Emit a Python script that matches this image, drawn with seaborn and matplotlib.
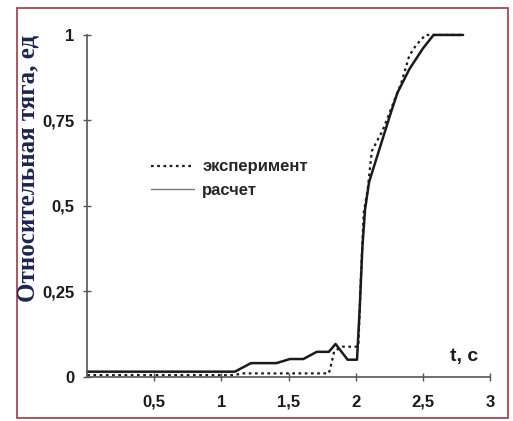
import matplotlib
matplotlib.use("Agg")
import matplotlib.pyplot as plt
import matplotlib.patches as patches
import seaborn as sns
import pandas as pd
from matplotlib.ticker import FuncFormatter

# расчет (solid)
t_calc = [0.0, 1.10, 1.22, 1.41, 1.51, 1.61, 1.71, 1.80, 1.85, 1.94, 2.01, 2.03, 2.05, 2.07,
          2.10, 2.14, 2.18, 2.22, 2.26, 2.31, 2.40, 2.50, 2.58, 2.80]
y_calc = [0.015, 0.015, 0.040, 0.040, 0.052, 0.052, 0.073, 0.073, 0.096, 0.050, 0.050, 0.20, 0.38, 0.49,
          0.57, 0.62, 0.67, 0.72, 0.77, 0.83, 0.90, 0.96, 1.0, 1.0]

# эксперимент (dotted)
t_exp = [0.0, 1.10, 1.15, 1.80, 1.82, 1.84, 1.90, 2.00, 2.02, 2.04, 2.06, 2.09, 2.12, 2.20,
         2.26, 2.34, 2.40, 2.45, 2.52, 2.80]
y_exp = [0.005, 0.005, 0.010, 0.010, 0.040, 0.075, 0.088, 0.088, 0.090, 0.30, 0.48, 0.55, 0.66, 0.72,
         0.78, 0.86, 0.94, 0.97, 1.0, 1.0]

x_ticks = [0.5, 1, 1.5, 2, 2.5, 3]
y_ticks = [0, 0.25, 0.5, 0.75, 1]

calc = pd.DataFrame({"t": t_calc, "y": y_calc})
exp = pd.DataFrame({"t": t_exp, "y": y_exp})

sns.set_style("ticks")
plt.rcParams["font.family"] = ["Liberation Sans", "DejaVu Sans"]

fig = plt.figure(figsize=(5.13, 4.21), dpi=100)
ax = fig.add_axes([0.170, 0.105, 0.785, 0.812])

sns.lineplot(data=exp, x="t", y="y", ax=ax, color="#1a1a1a", linestyle=(0, (1.2, 1.6)),
             linewidth=1.6, label="эксперимент", clip_on=False)
sns.lineplot(data=calc, x="t", y="y", ax=ax, color="#1a1a1a", linewidth=1.8,
             label="расчет", clip_on=False)

ax.set_xlim(0, 3)
ax.set_ylim(0, 1)
ax.set_xticks(x_ticks)
ax.set_yticks(y_ticks)
fmt = FuncFormatter(lambda v, p: ("%g" % v).replace(".", ","))
ax.xaxis.set_major_formatter(fmt)
ax.yaxis.set_major_formatter(fmt)
ax.tick_params(direction="inout", length=6, width=1, color="#555555",
               labelsize=12, labelcolor="#1a1a1a")
ax.tick_params(axis="x", pad=10)
ax.tick_params(axis="y", pad=6)
for lab in ax.get_xticklabels() + ax.get_yticklabels():
    lab.set_fontweight("bold")

for s in ["top", "right"]:
    ax.spines[s].set_visible(False)
for s in ["left", "bottom"]:
    ax.spines[s].set_color("#555555")
    ax.spines[s].set_linewidth(1.2)

ax.set_xlabel("")
ax.set_ylabel("")
ax.text(2.81, 0.06, "t, c", fontsize=14, fontweight="bold", color="#1a1a1a",
        ha="center", va="center")

fig.text(0.055, 0.60, "Относительная тяга, ед", rotation=90, ha="center", va="center",
         fontsize=18, fontweight="bold", color="#1c2450",
         family=["Liberation Serif", "DejaVu Serif"])

leg = ax.legend(loc="upper left", bbox_to_anchor=(0.12, 0.68), frameon=False,
                fontsize=12, handlelength=2.6, handletextpad=0.5, labelspacing=0.5)
for txt in leg.get_texts():
    txt.set_fontweight("bold")
leg.legend_handles[1].set_linewidth(1.0)
leg.legend_handles[1].set_color("#777777")

fig.patches.append(patches.Rectangle((17 / 513, 3 / 421), 491 / 513, 410 / 421,
                                     transform=fig.transFigure, fill=False,
                                     edgecolor="#a03848", linewidth=1.2))

fig.savefig("out.png", dpi=100)
